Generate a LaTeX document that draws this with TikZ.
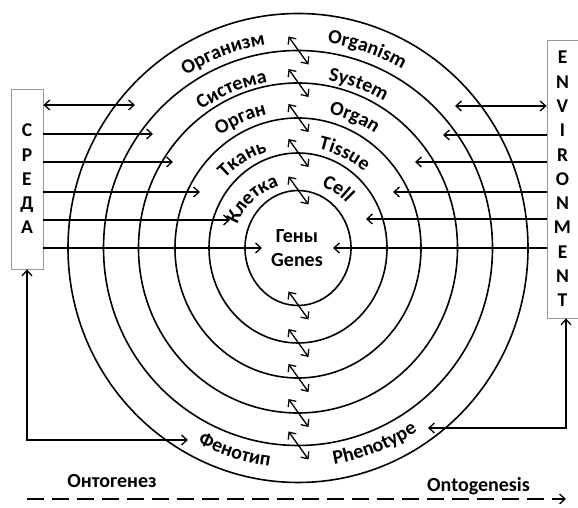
\documentclass[tikz,border=0pt]{standalone}
\usepackage{fontspec}
\setmainfont{Carlito}
\usetikzlibrary{arrows.meta,decorations.text,calc}
\newcommand\arclabelup[3]{% angle, radius, text (clockwise, text outward)
  \pgfmathsetmacro\sa{#1+45}\pgfmathsetmacro\ea{#1-45}
  \path[decorate,decoration={text along path,text align=center,
     text={|\bfseries\fontsize{20}{24}\selectfont|#3}}]
     ($(C)+(\sa:#2)$) arc[start angle=\sa,end angle=\ea,radius=#2];}
\newcommand\arclabeldown[3]{% angle, radius, text (counterclockwise, text inward)
  \pgfmathsetmacro\sa{#1-40}\pgfmathsetmacro\ea{#1+40}
  \path[decorate,decoration={text along path,text align=center,
     text={|\bfseries\fontsize{20}{24}\selectfont|#3}}]
     ($(C)+(\sa:#2)$) arc[start angle=\sa,end angle=\ea,radius=#2];}
\begin{document}
\begin{tikzpicture}[x=1pt,y=1pt,
  ring/.style={line width=1.6pt},
  conn/.style={line width=1.3pt,-{Straight Barb[length=5.5pt,width=10pt]}},
  dconn/.style={line width=1.3pt,{Straight Barb[length=5.5pt,width=10pt]}-{Straight Barb[length=5.5pt,width=10pt]}},
  lbl/.style={font=\bfseries\fontsize{20}{24}\selectfont,inner sep=0pt},
  envbox/.style={draw=gray!80,line width=0.8pt,align=center,inner sep=0pt,
     font=\bfseries\fontsize{19.5}{24.3}\selectfont},
]
\useasboundingbox (0,0) rectangle (578,508);
\coordinate (C) at (298,260);
% rings
\foreach \rx/\ry in {53/57.5, 89/95, 123/130, 159.5/165, 194.5/197.5, 230/234.5}
  \draw[ring] (C) ellipse[x radius=\rx, y radius=\ry];
% boxes
\node[envbox,minimum width=32pt,minimum height=180pt] (L) at (27,329) {С\\Р\\Е\\Д\\А};
\node[envbox,minimum width=31pt,minimum height=278pt] (R) at (562.5,329) {E\\N\\V\\I\\R\\O\\N\\M\\E\\N\\T};
% centre text
\node[lbl,anchor=base] (gru) at (297,265) {Гены};
\node[lbl,anchor=base] (gen) at (297,241) {Genes};
% left arrows
\coordinate (la1) at (135,403);
\coordinate (la2) at (153,374);
\coordinate (la3) at (173,346);
\coordinate (la4) at (200,316);
\coordinate (la5) at (230,288);
\coordinate (la6) at (262,260);
\draw[dconn] (L.east |- la1) -- (la1);
\foreach \i in {2,...,6} \draw[conn] (L.east |- la\i) -- (la\i);
% right arrows
\coordinate (ra1) at (455,402);
\coordinate (ra2) at (443,373);
\coordinate (ra3) at (415,346);
\coordinate (ra4) at (393,316);
\coordinate (ra5) at (366,289);
\coordinate (ra6) at (333,260);
\draw[dconn] (R.west |- ra1) -- (ra1);
\foreach \i in {2,...,6} \draw[conn] (R.west |- ra\i) -- (ra\i);
% central double arrows
\foreach \ry [count=\k] in {57.5,95,130,165,197.5} {
  \coordinate (t\k) at ($(C)+(0.5,\ry)$);
  \coordinate (b\k) at ($(C)+(0.5,-\ry)$);
  \draw[dconn] ($(t\k)+(-10,14)$) -- ($(t\k)+(10,-14)$);
  \draw[dconn] ($(b\k)+(-10,14)$) -- ($(b\k)+(10,-14)$);
}
% curved labels
\arclabelup{111}{206}{Организм}
\arclabelup{112.7}{168.5}{Система}
\arclabelup{114}{137}{Орган}
\arclabelup{122}{101}{Ткань}
\arclabelup{133}{65}{Клетка}
\arclabelup{70.8}{207}{Organism}
\arclabelup{69.7}{170}{System}
\arclabelup{66.6}{138}{Organ}
\arclabelup{63.7}{101}{Tissue}
\arclabelup{56}{66}{Cell}
\arclabeldown{252.7}{220}{Фенотип}
\arclabeldown{291.3}{219}{Phenotype}
% phenotype connectors
\coordinate (pl) at (188,68);
\coordinate (pr) at (428,80);
\coordinate (rs) at ($(R.south)+(3.5,0)$);
\draw[dconn] (L.south) |- (pl);
\draw[dconn] (rs) |- (pr);
% ontogenesis
\coordinate (os) at (27,9);
\coordinate (oe) at (566,9);
\draw[conn,dash pattern=on 17pt off 8pt] (os) -- (oe);
\node[lbl,anchor=base] (ontru) at (112,20) {Онтогенез};
\node[lbl,anchor=base] (onten) at (478.5,16) {Ontogenesis};
\end{tikzpicture}
\end{document}
